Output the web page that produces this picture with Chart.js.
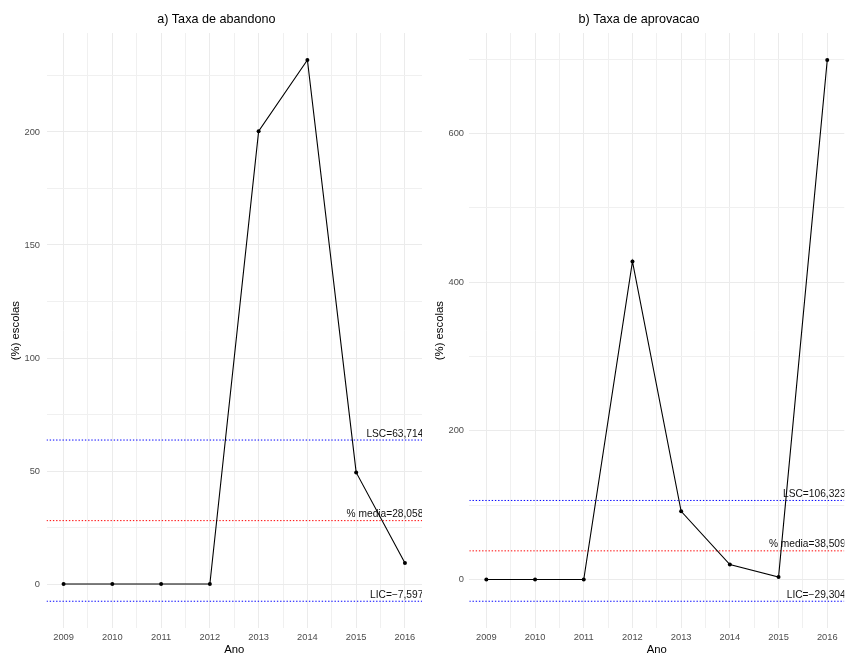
<!DOCTYPE html>
<html>
<head>
<meta charset="utf-8">
<script src="https://cdn.jsdelivr.net/npm/chart.js@4.4.1/dist/chart.umd.min.js"></script>
<style>
  html, body { margin: 0; padding: 0; background: #ffffff; }
  #wrap { position: relative; width: 845px; height: 655px; overflow: hidden; }
  #wrap canvas { position: absolute; top: 0; }
</style>
</head>
<body>
<div id="wrap">
  <canvas id="abandono" width="423" height="655" style="left:0px"></canvas>
  <canvas id="aprovacao" width="423" height="655" style="left:422px"></canvas>
</div>
<script>
// Anos observados (eixo x)
const anos = [2009, 2010, 2011, 2012, 2013, 2014, 2015, 2016];

// a) Taxa de abandono
const abandono = [0, 0, 0, 0, 200.3, 231.8, 49.4, 9.3];
const limitesAbandono = [63.7143, 28.0586, -7.5970];   // LSC, media, LIC
const ticksAbandono = [0, 50, 100, 150, 200];

// b) Taxa de aprovacao
const aprovacao = [0, 0, 0, 428, 91.8, 20.1, 3.2, 699];
const limitesAprovacao = [106.3239, 38.5097, -29.3046]; // LSC, media, LIC
const ticksAprovacao = [0, 200, 400, 600];

const nomesLimites = ['LSC', '% media', 'LIC'];
const coresLimites = ['#0000ff', '#ff0000', '#0000ff'];

const FONT = '"Liberation Sans", Arial, Helvetica, sans-serif';
const GRID = '#ebebeb';
const GRID_MINOR = '#f0f0f0';

function fmt(v) {
  return v.toFixed(4).replace('.', ',').replace('-', '\u2212');
}

function titlePlugin(text, x, y) {
  return {
    id: 'panelTitle',
    afterDraw(chart) {
      const ctx = chart.ctx;
      ctx.save();
      ctx.font = '12.6px ' + FONT;
      ctx.fillStyle = '#000000';
      ctx.textAlign = 'center';
      ctx.textBaseline = 'middle';
      ctx.fillText(text, x, y);
      ctx.restore();
    }
  };
}

function limitLabelPlugin(limites) {
  return {
    id: 'limitLabels',
    beforeDatasetsDraw(chart) {
      const { ctx, chartArea, scales } = chart;
      ctx.save();
      ctx.beginPath();
      ctx.rect(chartArea.left, chartArea.top, chartArea.right - chartArea.left, chartArea.bottom - chartArea.top);
      ctx.clip();
      ctx.font = '10.2px ' + FONT;
      ctx.fillStyle = '#111111';
      ctx.textAlign = 'right';
      ctx.textBaseline = 'alphabetic';
      limites.forEach((v, i) => {
        const y = scales.y.getPixelForValue(v);
        ctx.fillText(nomesLimites[i] + '=' + fmt(v), chartArea.right + 7, y - 3.5);
      });
      ctx.restore();
    }
  };
}

function buildPanel(id, cfg) {
  const vals = cfg.values;
  const lo = Math.min(...vals, ...cfg.limits);
  const hi = Math.max(...vals, ...cfg.limits);
  const yPad = (hi - lo) * 0.05;
  const yMin = lo - yPad, yMax = hi + yPad;

  const xLo = anos[0], xHi = anos[anos.length - 1];
  const xPad = (xHi - xLo) * 0.05;
  const xMin = xLo - xPad, xMax = xHi + xPad;

  // major + minor (midpoint) grid positions
  const step = cfg.yTicks[1] - cfg.yTicks[0];
  const yGrid = [];
  cfg.yTicks.forEach(t => { yGrid.push(t - step / 2, t); });
  yGrid.push(cfg.yTicks[cfg.yTicks.length - 1] + step / 2);
  const yVals = yGrid.filter(v => v >= yMin && v <= yMax);
  const xGrid = [];
  anos.forEach((a, i) => { xGrid.push(a); if (i < anos.length - 1) xGrid.push(a + 0.5); });

  const isMajorY = v => cfg.yTicks.includes(v);

  const datasets = [{
    data: anos.map((a, i) => ({ x: a, y: vals[i] })),
    borderColor: '#000000',
    backgroundColor: '#000000',
    borderWidth: 1.1,
    pointRadius: 2,
    pointBorderWidth: 0,
    pointBackgroundColor: '#000000',
    tension: 0,
    order: 0
  }];
  cfg.limits.forEach((v, i) => {
    datasets.push({
      data: [{ x: xMin, y: v }, { x: xMax, y: v }],
      borderColor: coresLimites[i],
      borderWidth: 1,
      borderDash: [1.4, 1.8],
      pointRadius: 0,
      order: 1
    });
  });

  new Chart(document.getElementById(id), {
    type: 'line',
    data: { datasets },
    options: {
      responsive: false,
      animation: false,
      layout: { autoPadding: false, padding: { top: 33, right: cfg.padRight, bottom: 0, left: 0 } },
      plugins: { legend: { display: false }, tooltip: { enabled: false }, title: { display: false } },
      scales: {
        x: {
          type: 'linear',
          min: xMin,
          max: xMax,
          afterBuildTicks: s => { s.ticks = xGrid.map(v => ({ value: v })); },
          afterFit: s => { s.height = 26.7; s.paddingLeft = 0; s.paddingRight = 0; },
          ticks: {
            autoSkip: false,
            maxRotation: 0,
            padding: 4,
            color: '#4d4d4d',
            font: { family: FONT, size: 9.3 },
            callback: v => (Number.isInteger(v) ? String(v) : '')
          },
          grid: {
            drawTicks: false,
            lineWidth: 1,
            color: ctx => (ctx.tick && Number.isInteger(ctx.tick.value) ? GRID : GRID_MINOR)
          },
          border: { display: false },
          title: {
            display: true,
            text: 'Ano',
            color: '#000000',
            padding: 0,
            font: { family: FONT, size: 11.3, lineHeight: 0.9 }
          }
        },
        y: {
          type: 'linear',
          min: yMin,
          max: yMax,
          afterBuildTicks: s => { s.ticks = yVals.map(v => ({ value: v })); },
          afterFit: s => { s.width = cfg.yWidth; s.paddingTop = 0; s.paddingBottom = 0; },
          ticks: {
            autoSkip: false,
            padding: cfg.yTickPad,
            color: '#4d4d4d',
            font: { family: FONT, size: 9.3 },
            callback: v => (isMajorY(v) ? String(v) : '')
          },
          grid: {
            drawTicks: false,
            lineWidth: 1,
            color: ctx => (ctx.tick && isMajorY(ctx.tick.value) ? GRID : GRID_MINOR)
          },
          border: { display: false },
          title: {
            display: true,
            text: '(%) escolas',
            color: '#000000',
            padding: { top: cfg.yTitlePad, bottom: 0 },
            font: { family: FONT, size: 11.3, lineHeight: 1.2 }
          }
        }
      }
    },
    plugins: [titlePlugin(cfg.title, cfg.titleX, 20), limitLabelPlugin(cfg.limits)]
  });
}

buildPanel('abandono', {
  title: 'a) Taxa de abandono',
  titleX: 216.3,
  values: abandono,
  limits: limitesAbandono,
  yTicks: ticksAbandono,
  yWidth: 46.5,
  yTickPad: 6.5,
  yTitlePad: 9,
  padRight: 1
});

buildPanel('aprovacao', {
  title: 'b) Taxa de aprovacao',
  titleX: 217,
  values: aprovacao,
  limits: limitesAprovacao,
  yTicks: ticksAprovacao,
  yWidth: 47.3,
  yTickPad: 5.3,
  yTitlePad: 11,
  padRight: 0.7
});
</script>
</body>
</html>
